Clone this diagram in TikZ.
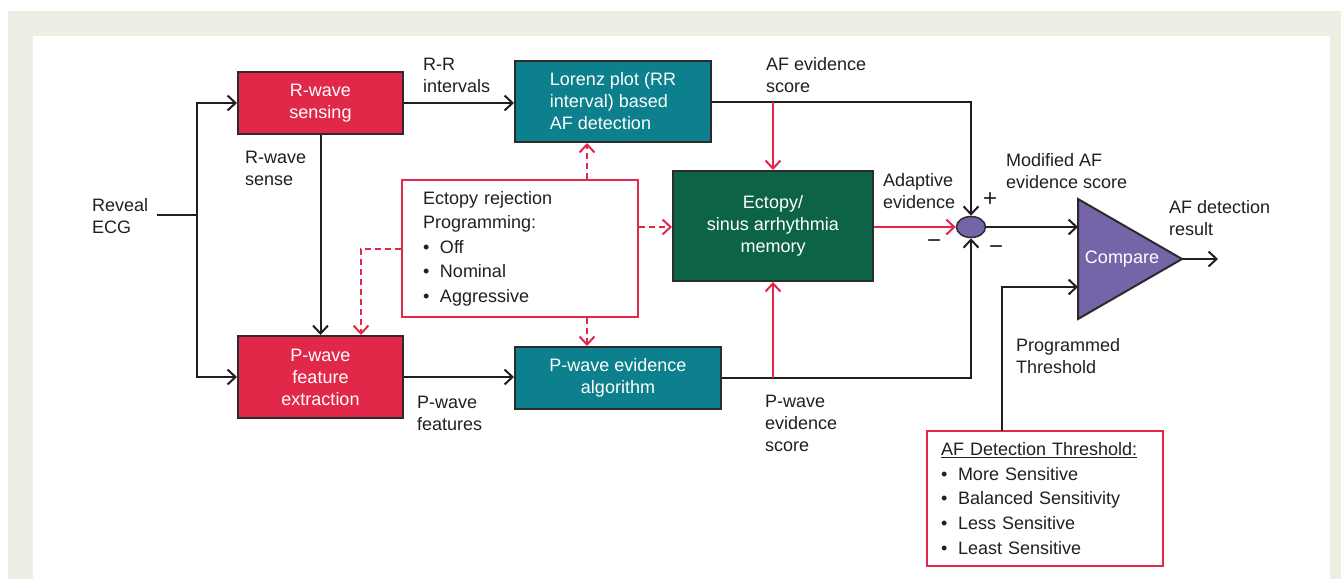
\documentclass[tikz,border=0pt]{standalone}
\usepackage{fontspec}
\setmainfont{Liberation Sans}
\usetikzlibrary{arrows.meta,shapes.geometric}
\definecolor{ink}{RGB}{35,31,32}
\definecolor{edge}{RGB}{45,42,44}
\definecolor{ared}{RGB}{225,40,72}
\definecolor{ateal}{RGB}{12,128,140}
\definecolor{agreen}{RGB}{12,99,72}
\definecolor{apurple}{RGB}{117,101,168}
\definecolor{beige}{RGB}{238,238,228}
\newcommand{\lft}[1]{\vtop{\halign{##\hfil\cr#1\crcr}}}
\newcommand{\bul}{\makebox[17pt][l]{•}}
\begin{document}
\begin{tikzpicture}[x=1pt,y=-1pt,
  font=\fontsize{18}{22}\selectfont, text=ink,
  line/.style={draw=ink, line width=2pt},
  arr/.style={line, -{Straight Barb[length=8pt,width=15pt]}},
  rline/.style={draw=ared, line width=2pt},
  rarr/.style={rline, -{Straight Barb[length=8pt,width=15pt]}},
  rdash/.style={rarr, dash pattern=on 6pt off 4pt},
  blk/.style={draw=edge, line width=2pt, text=white, align=center, inner sep=0pt},
  lbl/.style={anchor=base west, inner sep=0pt},
  obox/.style={draw=ared, fill=white, line width=2pt, align=left, inner ysep=0pt, text=ink},
]
\useasboundingbox (0,0) rectangle (1341,579);
\fill[white] (0,0) rectangle (1341,579);
\fill[beige] (8,11) rectangle (1341,579);
\fill[white] (33,36) rectangle (1330,579);

% blocks
\node[blk, fill=ared, minimum width=165pt, minimum height=62pt] (rw) at (320.5,103) {R-wave\\sensing};
\node[blk, fill=ared, minimum width=165pt, minimum height=82pt] (pwf) at (320.5,377) {P-wave\\feature\\extraction};
\node[blk, fill=ateal, minimum width=196pt, minimum height=81pt, align=left] (lor) at (613,101.5) {Lorenz plot (RR\\interval) based\\AF detection};
\node[blk, fill=ateal, minimum width=206pt, minimum height=62pt] (pwe) at (618,378) {P-wave evidence\\algorithm};
\node[blk, fill=agreen, minimum width=200pt, minimum height=110pt] (mem) at (773,226) {Ectopy/\\sinus arrhythmia\\memory};
\node[obox, text width=194pt, inner xsep=21pt, minimum height=137pt, font=\fontsize{18}{24.5}\selectfont] (ect) at (520,248.5)
  {Ectopy rejection\\Programming:\\\bul Off\\\bul Nominal\\\bul Aggressive};
\node[obox, text width=208pt, inner xsep=14pt, minimum height=135pt, font=\fontsize{18}{24.8}\selectfont] (thr) at (1045,498.5)
  {\underline{AF Detection Threshold:}\\\bul More Sensitive\\\bul Balanced Sensitivity\\\bul Less Sensitive\\\bul Least Sensitive};
\node[ellipse, draw=edge, fill=apurple, line width=1.5pt, minimum width=29pt, minimum height=21pt, inner sep=0pt] (sum) at (971,227) {};
\filldraw[fill=apurple, draw=edge, line width=2pt, line join=miter] (1078,199) -- (1078,319) -- (1182,259) -- cycle;
\node[text=white, inner sep=0pt] (cmp) at (1122,259) {Compare};
\coordinate (cin1) at (1078,227);
\coordinate (cin2) at (1078,287);
\coordinate (cout) at (1182,259);
\coordinate (res) at (1218,259);
\coordinate (ecg) at (157,215);
\coordinate (spl) at (197,215);
\coordinate (tt) at (1002,431);
\coordinate (dx) at (587,0);
\coordinate (dy) at (0,227);
\coordinate (dx2) at (361,0);

% connectors
\draw[line] (ecg) -- (spl);
\draw[arr] (spl) |- (rw.west);
\draw[arr] (spl) |- (pwf.west);
\draw[arr] (rw.south) -- (pwf.north);
\draw[arr] (rw.east) -- (rw.east -| lor.west);
\draw[arr] (lor.east) -| (sum.north);
\draw[rarr] (lor.east -| mem.north) -- (mem.north);
\draw[arr] (pwe.east) -| (sum.south);
\draw[arr] (pwf.east) -- (pwf.east -| pwe.west);
\draw[rarr] (pwe.east -| mem.south) -- (mem.south);
\draw[rarr] (sum.west -| mem.east) -- (sum.west);
\draw[arr] (sum.east) -- (cin1);
\draw[arr] (tt) |- (cin2);
\draw[arr] (cout) -- (res);
\draw[rdash] (ect.north -| dx) -- (lor.south -| dx);
\draw[rdash] (ect.south -| dx) -- (pwe.north -| dx);
\draw[rdash] (ect.east |- dy) -- (mem.west |- dy);
\draw[rdash] (ect.west) -| (pwf.north -| dx2);

% labels
\node[lbl] (l1) at (423,70) {\lft{R-R\cr intervals}};
\node[lbl] (l2) at (766,70) {\lft{AF evidence\cr score}};
\node[lbl] (l3) at (245,163) {\lft{R-wave\cr sense}};
\node[lbl] (l4) at (92,211) {\lft{Reveal\cr ECG}};
\node[lbl] (l5) at (883,186) {\lft{Adaptive\cr evidence}};
\node[lbl] (l6) at (1006,166) {\lft{Modified AF\cr evidence score}};
\node[lbl] (l7) at (1169,213) {\lft{AF detection\cr result}};
\node[lbl] (l8) at (417,408) {\lft{P-wave\cr features}};
\node[lbl] (l9) at (765,407) {\lft{P-wave\cr evidence\cr score}};
\node[lbl] (l10) at (1016,351) {\lft{Programmed\cr Threshold}};
\node[inner sep=0pt, font=\fontsize{24}{24}\selectfont] (s1) at (990,200) {+};
\node[inner sep=0pt, font=\fontsize{24}{24}\selectfont] (s2) at (934,244) {−};
\node[inner sep=0pt, font=\fontsize{24}{24}\selectfont] (s3) at (996,250) {−};
\end{tikzpicture}
\end{document}
